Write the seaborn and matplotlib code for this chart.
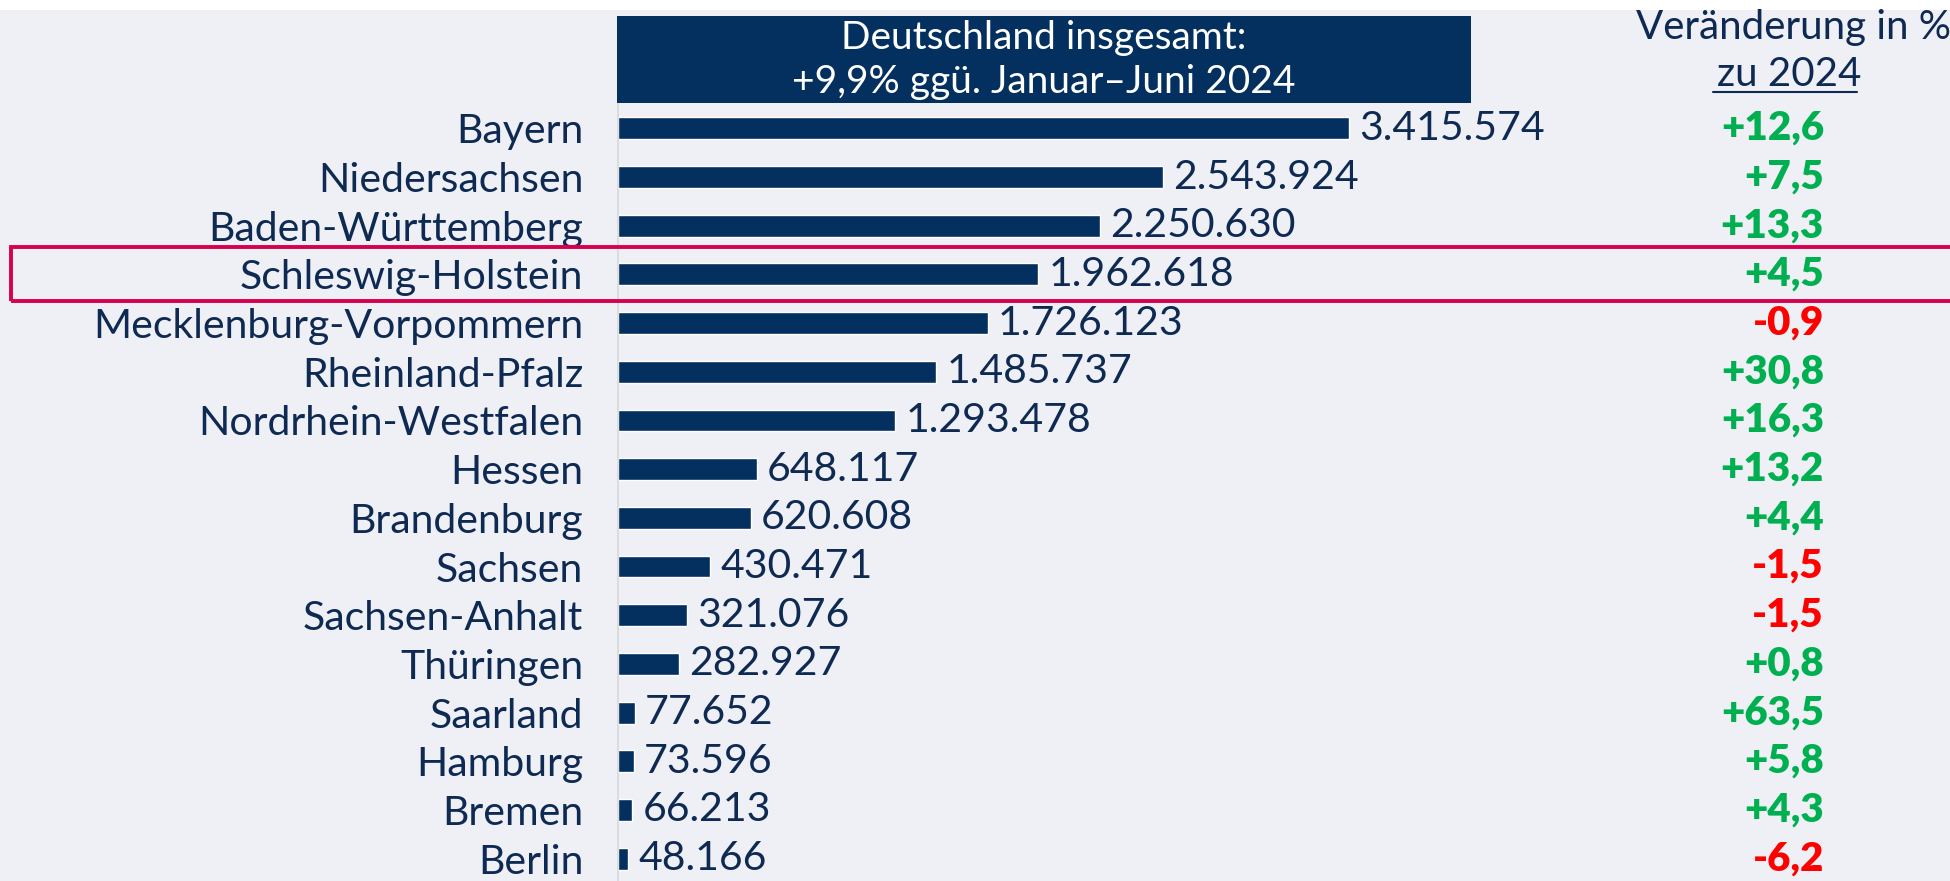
import pandas as pd
import matplotlib.pyplot as plt
import matplotlib.patches as patches
import matplotlib.lines as mlines
import seaborn as sns

laender = ['Bayern', 'Niedersachsen', 'Baden-Württemberg', 'Schleswig-Holstein',
           'Mecklenburg-Vorpommern', 'Rheinland-Pfalz', 'Nordrhein-Westfalen',
           'Hessen', 'Brandenburg', 'Sachsen', 'Sachsen-Anhalt', 'Thüringen',
           'Saarland', 'Hamburg', 'Bremen', 'Berlin']
werte = [3415574, 2543924, 2250630, 1962618, 1726123, 1485737, 1293478,
         648117, 620608, 430471, 321076, 282927, 77652, 73596, 66213, 48166]
veraenderung = [12.6, 7.5, 13.3, 4.5, -0.9, 30.8, 16.3, 13.2, 4.4, -1.5,
                -1.5, 0.8, 63.5, 5.8, 4.3, -6.2]
kopf_text = 'Deutschland insgesamt:\n+9,9% ggü. Januar–Juni 2024'
highlight = 'Schleswig-Holstein'

navy = '#03305F'
text_navy = '#0E2A52'
bg = '#EFF0F6'


def generate_barchart():
    df = pd.DataFrame({'Land': laender, 'Wert': werte, 'Veraenderung': veraenderung})

    sns.set_theme(style='white')
    plt.rcParams['font.family'] = ['Lato', 'DejaVu Sans']

    W, H = 1950, 881
    fig = plt.figure(figsize=(19.5, 8.81), dpi=100, facecolor=bg)
    # white strip on top
    fig.patches.append(patches.Rectangle((0, 1 - 10 / H), 1, 10 / H, transform=fig.transFigure,
                                         facecolor='white', edgecolor='none', zorder=0))

    x0 = 618 / W
    ax = fig.add_axes([x0, -2 / H, 1 - x0, 779 / H])
    ax.set_facecolor(bg)

    sns.barplot(data=df, y='Land', x='Wert', color=navy, width=0.45, saturation=1, ax=ax)

    ax.set_xlim(0, 1332 / 214.1e-6)
    ax.set_ylim(len(laender) - 0.5, -0.5)
    ax.set_xlabel('')
    ax.set_ylabel('')
    ax.set_xticks([])
    for s in ['top', 'right', 'bottom']:
        ax.spines[s].set_visible(False)
    ax.spines['left'].set_color('#D9D9D9')
    ax.spines['left'].set_linewidth(1.2)

    ax.tick_params(axis='y', which='major', length=0, pad=25, labelsize=29.5, labelcolor=text_navy)
    ax.set_yticks([i - 0.5 for i in range(len(laender) + 1)], minor=True)
    ax.tick_params(axis='y', which='minor', length=8, width=1.2, color='#D9D9D9')

    for i, row in df.iterrows():
        ax.text(row['Wert'] + 48000, i, f"{row['Wert']:,}".replace(',', '.'),
                va='center', ha='left', fontsize=29.5, color=text_navy)
        p = row['Veraenderung']
        ax.text((1824 - 618) / 1332, i, f"{p:+.1f}".replace('.', ','),
                transform=ax.get_yaxis_transform(), va='center', ha='right',
                fontsize=29, fontweight='heavy', color='#00B050' if p >= 0 else '#FF0000')

    # header box
    fig.patches.append(patches.Rectangle((617 / W, 1 - 103 / H), (1471 - 617) / W, 87 / H,
                                         transform=fig.transFigure, facecolor=navy,
                                         edgecolor='none', zorder=1))
    fig.text(1044 / W, 1 - 60 / H, kopf_text, ha='center', va='center', color='white',
             fontsize=28, linespacing=1.3, zorder=2)

    # right column header
    fig.text(1794 / W, 1 - 27 / H, 'Veränderung in %', ha='center', va='center',
             color=text_navy, fontsize=29)
    fig.text(1789 / W, 1 - 74 / H, 'zu 2024', ha='center', va='center',
             color=text_navy, fontsize=29)
    fig.lines.append(mlines.Line2D([1713 / W, 1857 / W], [1 - 92 / H, 1 - 92 / H],
                                   transform=fig.transFigure, color=text_navy, linewidth=1.5))

    # highlight frame
    fig.patches.append(patches.Rectangle((11 / W, 1 - 301 / H), 1.0, 54 / H,
                                         transform=fig.transFigure, facecolor='none',
                                         edgecolor='#D6004E', linewidth=2.8, zorder=5))

    plt.savefig('out.png', dpi=100, facecolor=fig.get_facecolor())
    plt.close()


if __name__ == "__main__":
    generate_barchart()
